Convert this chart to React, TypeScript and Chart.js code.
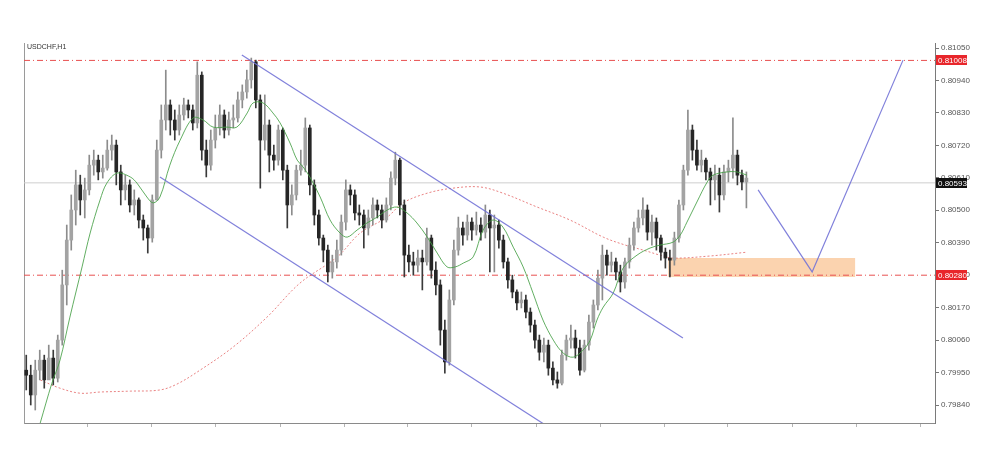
import React, { useEffect, useRef } from "react";
import { Chart, registerables } from "chart.js";

Chart.register(...registerables);

// ---------- data (prices in points, 1 point = 0.00001) ----------
const SYMBOL = "USDCHF,H1";
const POINT = 0.00001;
const FIRST_OPEN = 79958;

const CLOSE = [
  79941, 79874, 79958, 79992, 79925, 79999, 79931, 80060, 80247, 80399,
  80501, 80586, 80535, 80569, 80653, 80670, 80630, 80643, 80704, 80721,
  80630, 80569, 80586, 80518, 80535, 80467, 80440, 80406, 80535, 80704,
  80806, 80857, 80806, 80772, 80823, 80857, 80840, 80796, 80958, 80704,
  80653, 80738, 80779, 80823, 80772, 80806, 80813, 80874, 80901, 80942,
  81003, 80874, 80738, 80789, 80687, 80670, 80772, 80636, 80518, 80552,
  80636, 80653, 80779, 80586, 80484, 80406, 80365, 80291, 80325, 80365,
  80460, 80569, 80552, 80491, 80484, 80440, 80474, 80518, 80501, 80467,
  80518, 80609, 80670, 80518, 80348, 80325, 80314, 80338, 80325, 80406,
  80297, 80247, 80094, 79986, 80196, 80365, 80440, 80416, 80460, 80433,
  80450, 80426, 80484, 80440, 80450, 80399, 80325, 80264, 80223, 80186,
  80196, 80155, 80111, 80060, 80019, 80043, 79965, 79925, 79914, 80009,
  80060, 80067, 80033, 79958, 80043, 80121, 80179, 80270, 80348, 80314,
  80325, 80291, 80257, 80325, 80382, 80440, 80474, 80501, 80426, 80460,
  80406, 80358, 80338, 80331, 80406, 80518, 80636, 80772, 80704, 80653,
  80670, 80630, 80603, 80619, 80552, 80630, 80643, 80687, 80619, 80596, 80609,
];

const HIGH = [
  80009, 79975, 79992, 80026, 80009, 80043, 80026, 80077, 80297, 80450,
  80552, 80636, 80619, 80609, 80687, 80704, 80687, 80687, 80738, 80755,
  80738, 80653, 80619, 80603, 80569, 80542, 80484, 80450, 80552, 80738,
  80857, 80975, 80874, 80840, 80857, 80880, 80874, 80857, 81003, 80969,
  80738, 80772, 80823, 80857, 80840, 80833, 80857, 80901, 80925, 80975,
  81016, 81009, 80891, 80891, 80806, 80721, 80789, 80779, 80653, 80586,
  80653, 80704, 80813, 80789, 80603, 80501, 80416, 80382, 80348, 80399,
  80484, 80603, 80586, 80569, 80518, 80501, 80501, 80542, 80535, 80518,
  80542, 80630, 80697, 80677, 80535, 80382, 80358, 80365, 80365, 80440,
  80416, 80325, 80264, 80128, 80230, 80399, 80477, 80460, 80484, 80474,
  80494, 80474, 80518, 80501, 80484, 80467, 80416, 80338, 80280, 80230,
  80223, 80213, 80169, 80128, 80077, 80067, 80060, 79986, 79952, 80026,
  80077, 80111, 80094, 80060, 80060, 80145, 80196, 80297, 80382, 80365,
  80358, 80338, 80314, 80338, 80406, 80460, 80501, 80542, 80518, 80484,
  80474, 80416, 80372, 80365, 80426, 80535, 80653, 80840, 80789, 80738,
  80704, 80677, 80643, 80653, 80643, 80653, 80670, 80813, 80704, 80636, 80630,
];

const LOW = [
  79891, 79840, 79823, 79925, 79897, 79958, 79908, 79918, 80043, 80179,
  80365, 80450, 80484, 80474, 80552, 80619, 80603, 80609, 80636, 80670,
  80586, 80518, 80535, 80494, 80484, 80440, 80399, 80355, 80392, 80535,
  80677, 80772, 80755, 80738, 80755, 80806, 80813, 80772, 80779, 80670,
  80613, 80636, 80711, 80755, 80745, 80755, 80779, 80799, 80847, 80880,
  80914, 80847, 80575, 80704, 80630, 80636, 80653, 80603, 80440, 80484,
  80535, 80619, 80630, 80552, 80450, 80382, 80325, 80257, 80270, 80304,
  80348, 80433, 80518, 80467, 80450, 80372, 80416, 80450, 80474, 80440,
  80460, 80501, 80586, 80484, 80274, 80291, 80280, 80291, 80230, 80314,
  80270, 80213, 80043, 79948, 79975, 80179, 80348, 80382, 80399, 80399,
  80416, 80399, 80406, 80291, 80291, 80372, 80304, 80236, 80203, 80162,
  80169, 80135, 80087, 80033, 79992, 79986, 79941, 79908, 79897, 79908,
  79992, 80033, 79999, 79941, 79952, 80026, 80101, 80162, 80196, 80280,
  80291, 80264, 80223, 80236, 80304, 80365, 80426, 80450, 80399, 80382,
  80365, 80331, 80304, 80274, 80314, 80392, 80501, 80619, 80670, 80636,
  80630, 80603, 80518, 80535, 80494, 80535, 80596, 80609, 80586, 80569, 80508,
];

// fast moving average (green): bar index / price points
const MA_FAST_X = [
  3.1, 5.7, 7.5, 9.7, 12.4, 14.2, 16.4, 17.9, 20.2, 23.1,
  24.6, 26.8, 28.2, 29.7, 31.9, 34.2, 37.1, 39.3, 41.5, 44.6,
  46.8, 49.1, 50.4, 52.6, 54.8, 56.4, 58.6, 60.2, 61.5, 63.0,
  65.3, 67.5, 69.7, 71.3, 73.5, 75.7, 78.0, 80.2, 82.4, 84.6,
  86.8, 89.1, 91.3, 93.5, 95.3, 97.1, 99.3, 101.5, 103.7, 105.9,
  108.2, 110.4, 112.6, 114.8, 117.1, 119.3, 121.5, 123.7, 125.3, 126.8,
  128.2, 130.4, 132.6, 135.7, 138.6, 140.8, 143.7, 145.3, 146.8, 149.0,
  151.3, 152.6, 155.7, 157.9, 160.1,
];
const MA_FAST_Y = [
  79779, 79914, 79992, 80138, 80308, 80423, 80535, 80592, 80626, 80613,
  80592, 80545, 80525, 80545, 80653, 80738, 80813, 80806, 80782, 80782,
  80782, 80830, 80864, 80864, 80830, 80796, 80728, 80670, 80647, 80613,
  80545, 80467, 80423, 80409, 80433, 80457, 80477, 80501, 80511, 80491,
  80457, 80409, 80355, 80308, 80308, 80321, 80342, 80433, 80467, 80443,
  80375, 80308, 80219, 80128, 80060, 80016, 80002, 80026, 80060, 80128,
  80172, 80219, 80304, 80348, 80372, 80382, 80392, 80416, 80460, 80528,
  80596, 80619, 80630, 80630, 80619,
];

// slow moving average (red dotted)
const MA_SLOW_X = [
  3.1, 7.5, 12.0, 16.4, 23.1, 29.7, 33.5, 38.6, 46.0, 53.5,
  60.8, 69.1, 74.2, 80.2, 83.7, 89.1, 94.8, 100.8, 105.9, 113.5,
  120.8, 128.2, 133.1, 137.1, 140.8, 143.7, 151.9, 160.1,
];
const MA_SLOW_Y = [
  79925, 79897, 79880, 79884, 79887, 79891, 79911, 79958, 80037, 80138,
  80253, 80342, 80423, 80477, 80525, 80558, 80575, 80579, 80558, 80511,
  80467, 80409, 80382, 80365, 80348, 80338, 80345, 80358,
];

const Y_TICKS = [
  0.7984, 0.7995, 0.8006, 0.8017, 0.8028, 0.8039,
  0.805, 0.8061, 0.8072, 0.8083, 0.8094, 0.8105,
];
const X_TICKS = [13.7, 27.9, 42.1, 56.4, 70.6, 84.8, 99.0, 113.3, 127.5, 141.7, 155.9, 170.2, 184.4, 198.6];
const X_MIN = -0.5;
const X_MAX = 201.9;
const Y_MIN = 0.79779;
const Y_MAX = 0.81067;

const RESISTANCE = 0.81008;
const SUPPORT = 0.8028;
const LAST_PRICE = 0.80593;

const CHANNEL_UPPER_X = [47.9, 145.9];
const CHANNEL_UPPER_Y = [0.81026, 0.80067];
const CHANNEL_LOWER_X = [29.7, 118.0];
const CHANNEL_LOWER_Y = [0.80613, 0.79746];
const PROJECTION_X = [162.6, 174.6, 194.8];
const PROJECTION_Y = [0.80569, 0.80291, 0.81009];
const ZONE_X = [142.6, 184.2];
const ZONE_LOW = 0.80274;
const ZONE_HIGH = 0.80338;

const PRICE_TAGS: [number, string][] = [
  [RESISTANCE, "#e8262b"],
  [LAST_PRICE, "#111111"],
  [SUPPORT, "#e8262b"],
];

const FONT = "'Liberation Sans', Arial, sans-serif";

export default function App() {
  const ref = useRef<HTMLCanvasElement>(null);

  useEffect(() => {
    const canvas = ref.current;
    if (!canvas) return;
    const P = (v: number) => v * POINT;
    const opens = CLOSE.map((c, i) => (i === 0 ? FIRST_OPEN : CLOSE[i - 1]));
    const wicks = CLOSE.map((_, i) => ({ x: i, y: [P(LOW[i]), P(HIGH[i])] }));
    const bodies = CLOSE.map((c, i) => ({
      x: i,
      y: [P(Math.min(opens[i], c)), P(Math.max(opens[i], c))],
    }));
    const bodyColors = CLOSE.map((c, i) => (c > opens[i] ? "#a3a3a3" : "#262626"));
    const wickColors = CLOSE.map((c, i) => (c > opens[i] ? "#8c8c8c" : "#3a3a3a"));

    const hline = (v: number) => [
      { x: X_MIN, y: v },
      { x: X_MAX, y: v },
    ];
    const pts = (xs: number[], ys: number[], scale = 1) =>
      xs.map((x, i) => ({ x, y: ys[i] * scale }));

    const overlay = {
      id: "overlay",
      afterDraw(chart: any) {
        const { ctx, chartArea: a, scales } = chart;
        const y = scales.y;
        ctx.save();
        ctx.font = `7px ${FONT}`;
        ctx.fillStyle = "#333";
        ctx.textBaseline = "middle";
        ctx.textAlign = "left";
        ctx.fillText(SYMBOL, a.left + 3, a.top + 4);
        ctx.font = `8px ${FONT}`;
        for (const [v, bg] of PRICE_TAGS) {
          const py = Math.round(y.getPixelForValue(v));
          ctx.fillStyle = bg;
          ctx.fillRect(a.right + 1, py - 5, 31, 10);
          ctx.fillStyle = "#ffffff";
          ctx.fillText(v.toFixed(5), a.right + 3, py + 0.5);
        }
        ctx.restore();
      },
    };

    const chart = new Chart(canvas, {
      type: "bar",
      data: {
        datasets: [
          {
            type: "line",
            data: [
              { x: ZONE_X[0], y: ZONE_HIGH },
              { x: ZONE_X[1], y: ZONE_HIGH },
            ],
            borderWidth: 0,
            pointRadius: 0,
            backgroundColor: "rgba(249,196,148,0.75)",
            fill: { value: ZONE_LOW },
            order: 20,
          } as any,
          {
            type: "line",
            data: hline(LAST_PRICE),
            borderColor: "#cfcfcf",
            borderWidth: 1,
            pointRadius: 0,
            order: 19,
          },
          {
            type: "line",
            data: hline(RESISTANCE),
            borderColor: "#e85050",
            borderWidth: 1,
            borderDash: [6, 3, 1, 3],
            pointRadius: 0,
            order: 18,
          },
          {
            type: "line",
            data: hline(SUPPORT),
            borderColor: "#e85050",
            borderWidth: 1,
            borderDash: [6, 3, 1, 3],
            pointRadius: 0,
            order: 18,
          },
          {
            type: "line",
            data: pts(MA_SLOW_X, MA_SLOW_Y, POINT),
            borderColor: "rgba(225,90,90,0.75)",
            borderWidth: 1,
            borderDash: [2, 2],
            pointRadius: 0,
            tension: 0.35,
            order: 17,
          },
          {
            type: "bar",
            data: wicks as any,
            backgroundColor: wickColors,
            barThickness: 1,
            grouped: false,
            order: 12,
          } as any,
          {
            type: "bar",
            data: bodies as any,
            backgroundColor: bodyColors,
            barThickness: 3,
            minBarLength: 1,
            grouped: false,
            order: 11,
          } as any,
          {
            type: "line",
            data: pts(MA_FAST_X, MA_FAST_Y, POINT),
            borderColor: "rgba(70,160,70,0.85)",
            borderWidth: 1,
            pointRadius: 0,
            tension: 0.35,
            order: 5,
          },
          {
            type: "line",
            data: pts(CHANNEL_UPPER_X, CHANNEL_UPPER_Y),
            borderColor: "rgba(115,115,215,0.9)",
            borderWidth: 1.2,
            pointRadius: 0,
            order: 3,
          },
          {
            type: "line",
            data: pts(CHANNEL_LOWER_X, CHANNEL_LOWER_Y),
            borderColor: "rgba(115,115,215,0.9)",
            borderWidth: 1.2,
            pointRadius: 0,
            order: 3,
          },
          {
            type: "line",
            data: pts(PROJECTION_X, PROJECTION_Y),
            borderColor: "rgba(115,115,215,0.9)",
            borderWidth: 1.2,
            pointRadius: 0,
            order: 3,
          },
        ],
      },
      options: {
        animation: false,
        responsive: false,
        maintainAspectRatio: false,
        layout: { padding: { left: 24, top: 43, right: 0, bottom: 0 } },
        plugins: { legend: { display: false }, tooltip: { enabled: false } },
        scales: {
          x: {
            type: "linear",
            min: X_MIN,
            max: X_MAX,
            offset: false,
            afterBuildTicks: (s: any) => {
              s.ticks = X_TICKS.map((v) => ({ value: v }));
            },
            ticks: { display: false },
            grid: { offset: false, drawOnChartArea: false, drawTicks: true, tickLength: 4, color: "#b5b5b5" },
            border: { display: true, color: "#8a8a8a", width: 1 },
            afterFit: (s: any) => {
              s.height = 31;
            },
          },
          y: {
            type: "linear",
            position: "right",
            min: Y_MIN,
            max: Y_MAX,
            afterBuildTicks: (s: any) => {
              s.ticks = Y_TICKS.map((v) => ({ value: v }));
            },
            ticks: {
              callback: (v: any) => Number(v).toFixed(5),
              font: { size: 8, family: FONT },
              color: "#555",
              padding: 2,
              autoSkip: false,
            },
            grid: { drawOnChartArea: false, tickLength: 4, color: "#777" },
            border: { display: true, color: "#7a7a7a", width: 1 },
            afterFit: (s: any) => {
              s.width = 65;
            },
          },
          yl: {
            type: "linear",
            position: "left",
            ticks: { display: false },
            grid: { drawOnChartArea: false, drawTicks: false },
            border: { display: true, color: "#9a9a9a", width: 1 },
            afterFit: (s: any) => {
              s.width = 0;
            },
          },
        },
      } as any,
      plugins: [overlay],
    });

    return () => chart.destroy();
  }, []);

  return (
    <div style={{ position: "absolute", left: 0, top: 0, width: 1000, height: 454, background: "#fff" }}>
      <canvas ref={ref} width={1000} height={454} style={{ display: "block" }} />
    </div>
  );
}
